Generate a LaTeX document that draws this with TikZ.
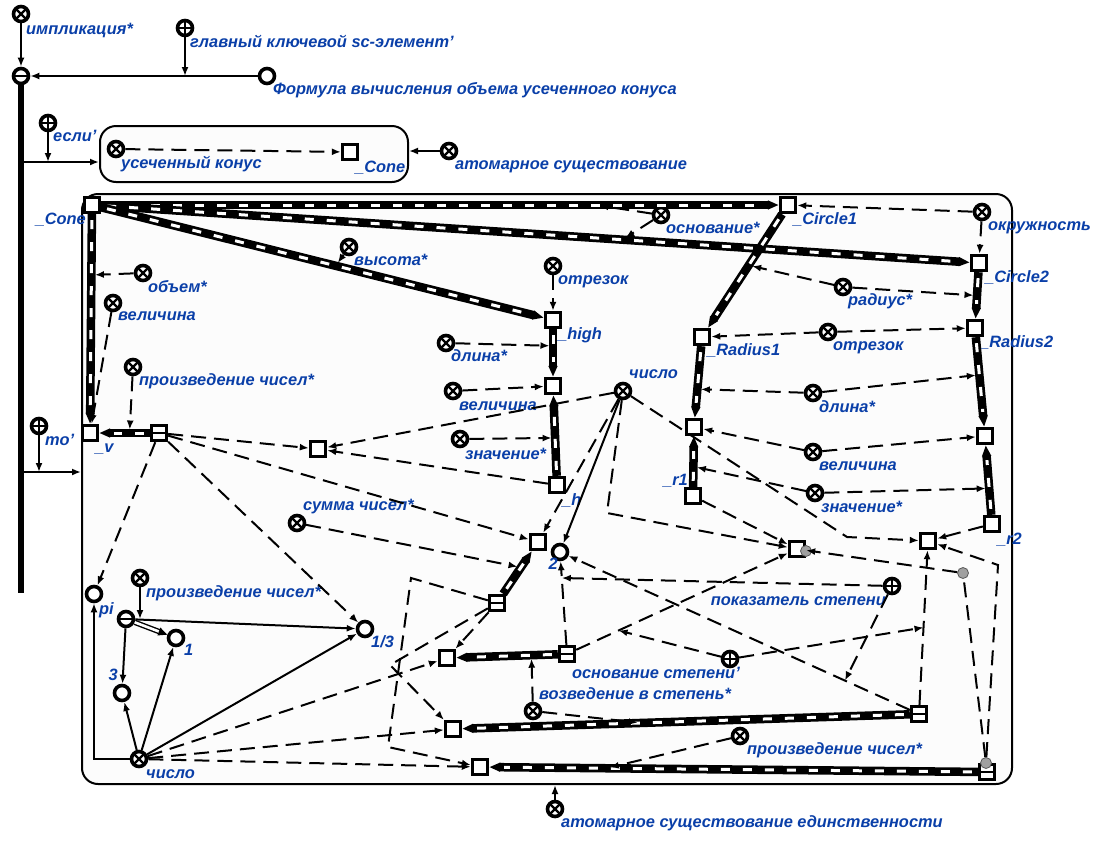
\documentclass[tikz,border=0pt]{standalone}
\usepackage{fontspec}
\setmainfont{Liberation Sans}
\usetikzlibrary{arrows.meta, calc}
\definecolor{scBlue}{HTML}{0A3FA8}
\definecolor{scGray}{HTML}{A0A0A0}

\begin{document}
\begin{tikzpicture}[x=1pt, y=-1pt,
  elem/.style={circle, draw, line width=3.6pt, fill=white, minimum size=15pt, inner sep=0pt},
  constnode/.style={elem},
  varnode/.style={elem, path picture={\draw[line width=2.2pt]
      (path picture bounding box.north west) -- (path picture bounding box.south east)
      (path picture bounding box.north east) -- (path picture bounding box.south west);}},
  plusnode/.style={elem, path picture={\draw[line width=2.2pt]
      (path picture bounding box.north) -- (path picture bounding box.south)
      (path picture bounding box.west) -- (path picture bounding box.east);}},
  minusnode/.style={elem, path picture={\draw[line width=2.4pt]
      (path picture bounding box.west) -- (path picture bounding box.east);}},
  sqnode/.style={rectangle, draw, line width=3.4pt, fill=white, minimum size=15pt, inner sep=0pt},
  tuplenode/.style={sqnode, path picture={\draw[line width=2.6pt]
      (path picture bounding box.west) -- (path picture bounding box.east);}},
  gdot/.style={circle, draw=black!65, line width=0.8pt, fill=scGray, minimum size=11pt, inner sep=0pt},
  contour/.style={draw, rounded corners=16pt, line width=2pt, fill=black!1, inner sep=0pt},
  lbl/.style={font=\fontsize{16.4}{18}\selectfont\bfseries\itshape, text=scBlue, inner sep=0pt, anchor=mid west},
  lblr/.style={lbl, anchor=mid east},
  carc/.style={line width=2pt, -{Latex[length=9pt,width=7pt]}},
  varc/.style={carc, dash pattern=on 15pt off 8pt},
  roleto/.style={varc, shorten >=3.5pt},
  pairarc/.style={line width=8.5pt, -{Triangle[length=11pt,width=8.5pt]},
    postaction={draw=white, line width=3pt, dash pattern=on 9pt off 13pt,
      shorten >=15pt, shorten <=6pt, -}}
]
\useasboundingbox (0,0) rectangle (1100,844);

% contours
\node[contour, minimum width=308pt, minimum height=56pt] (ctr1) at (254,154) {};
\node[contour, minimum width=930pt, minimum height=590pt] (ctr2) at (547,489) {};

% outer part
\node[varnode] (impl) at (21,14) {};
\node[lbl] (implL) at (26,32) {импликация*};
\node[plusnode] (glav) at (185,28) {};
\node[lbl] (glavL) at (190,45) {главный ключевой sc-элемент'};
\node[minusnode] (bund) at (21,76) {};
\node[constnode] (form) at (267,76) {};
\node[lbl] (formL) at (273,92) {Формула вычисления объема усеченного конуса};
\node[plusnode] (esli) at (48,123) {};
\node[lbl] (esliL) at (53,139) {если'};
\node[varnode] (usech) at (116,149) {};
\node[lbl] (usechL) at (121,166) {усеченный конус};
\node[sqnode] (cone1) at (350,152) {};
\node[lbl] (cone1L) at (355,170) {\_Cone};
\node[varnode] (atom) at (449,151) {};
\node[lbl] (atomL) at (455,167) {атомарное существование};
\node[plusnode] (then) at (39,426) {};
\node[lbl] (thenL) at (45,443) {то'};
\node[varnode] (atomU) at (555,809) {};
\node[lbl] (atomUL) at (561,825) {атомарное существование единственности};
\coordinate (jIf) at (21,162);
\coordinate (jThen) at (21,472);
\coordinate (tEnd) at (21,593);

% cone, circles, radii
\node[sqnode] (cone2) at (92,205) {};
\node[lblr] (cone2L) at (86,222) {\_Cone};
\node[sqnode] (circ1) at (788,205) {};
\node[lbl] (circ1L) at (793,222) {\_Circle1};
\node[sqnode] (circ2) at (979,263) {};
\node[lbl] (circ2L) at (985,280) {\_Circle2};
\node[varnode] (okr) at (982,212) {};
\node[lbl] (okrL) at (988,228) {окружность};
\node[varnode] (osnv) at (661,215) {};
\node[lbl] (osnvL) at (666,231) {основание*};
\node[varnode] (vys) at (349,247) {};
\node[lbl] (vysL) at (354,263) {высота*};
\node[sqnode] (high) at (553,320) {};
\node[lbl] (highL) at (558,337) {\_high};
\node[varnode] (otrz1) at (553,266) {};
\node[lbl] (otrz1L) at (558,282) {отрезок};
\node[varnode] (dlin1) at (446,343) {};
\node[lbl] (dlin1L) at (451,359) {длина*};
\node[sqnode] (hval) at (553,386) {};
\node[varnode] (vel1) at (453,391) {};
\node[lbl] (vel1L) at (459,408) {величина};
\node[varnode] (zn1) at (460,439) {};
\node[lbl] (zn1L) at (465,457) {значение*};
\node[sqnode] (h) at (557,485) {};
\node[lbl] (hL) at (562,503) {\_h};
\node[varnode] (num1) at (623,391) {};
\node[lbl] (num1L) at (629,376) {число};
\node[varnode] (obem) at (143,273) {};
\node[lbl] (obemL) at (148,290) {объем*};
\node[varnode] (vel2) at (113,303) {};
\node[lbl] (vel2L) at (118,318) {величина};
\node[varnode] (prz1) at (133,367) {};
\node[lbl] (prz1L) at (139,383) {произведение чисел*};
\node[sqnode] (v) at (90,433) {};
\node[lbl] (vL) at (95,450) {\_v};
\node[tuplenode] (prodv) at (159,433) {};
\node[sqnode] (hmid) at (318,449) {};
\node[sqnode] (rad1) at (702,337) {};
\node[lbl] (rad1L) at (707,353) {\_Radius1};
\node[sqnode] (rad2) at (975,328) {};
\node[lbl] (rad2L) at (980,345) {\_Radius2};
\node[varnode] (otrz2) at (828,332) {};
\node[lbl] (otrz2L) at (833,348) {отрезок};
\node[varnode] (radi) at (843,287) {};
\node[lbl] (radiL) at (848,303) {радиус*};
\node[sqnode] (r1val) at (694,427) {};
\node[sqnode] (r2val) at (985,436) {};
\node[varnode] (dlin2) at (813,393) {};
\node[lbl] (dlin2L) at (819,410) {длина*};
\node[varnode] (vel3) at (813,452) {};
\node[lbl] (vel3L) at (819,468) {величина};
\node[varnode] (zn2) at (815,493) {};
\node[lbl] (zn2L) at (821,510) {значение*};
\node[sqnode] (r1) at (693,496) {};
\node[lblr] (r1L) at (688,483) {\_r1};
\node[sqnode] (r2) at (992,524) {};
\node[lbl] (r2L) at (997,542) {\_r2};

% formula part
\node[varnode] (sumn) at (297,523) {};
\node[lbl] (sumnL) at (303,508) {сумма чисел*};
\node[sqnode] (ssum) at (538,542) {};
\node[constnode] (two) at (560,552) {};
\node[lblr] (twoL) at (558,567) {2};
\node[tuplenode] (tsum) at (497,603) {};
\node[constnode] (third) at (365,629) {};
\node[lbl] (thirdL) at (371,645) {1/3};
\node[constnode] (pi) at (94,594) {};
\node[lbl] (piL) at (99,612) {pi};
\node[varnode] (prz2) at (140,578) {};
\node[lbl] (prz2L) at (146,595) {произведение чисел*};
\node[minusnode] (tpr) at (126,619) {};
\node[constnode] (one) at (176,638) {};
\node[lbl] (oneL) at (184,653) {1};
\node[constnode] (three) at (122,693) {};
\node[lblr] (threeL) at (118,678) {3};
\node[varnode] (num2) at (139,759) {};
\node[lbl] (num2L) at (146,776) {число};
\node[sqnode] (sqa) at (447,658) {};
\node[tuplenode] (tpow1) at (567,654) {};
\node[plusnode] (osn) at (730,659) {};
\node[lblr] (osnL) at (740,676) {основание степени'};
\node[varnode] (vozv) at (533,711) {};
\node[lbl] (vozvL) at (539,697) {возведение в степень*};
\node[sqnode] (sqb) at (453,729) {};
\node[tuplenode] (tpow2) at (919,714) {};
\node[sqnode] (sqc) at (480,767) {};
\node[tuplenode] (tmul) at (987,772) {};
\node[varnode] (prz3) at (740,736) {};
\node[lbl] (prz3L) at (747,752) {произведение чисел*};
\node[sqnode] (spow) at (797,549) {};
\node[sqnode] (sp2) at (928,541) {};
\node[plusnode] (pok) at (892,586) {};
\node[lblr] (pokL) at (886,603) {показатель степени};
\node[gdot] (gA) at (806,551) {};
\node[gdot] (gB) at (963,573) {};
\node[gdot] (gC) at (986,763) {};
\coordinate (bNum) at (607,513);
\coordinate (bNumR) at (847,537);
\coordinate (bSumB) at (390,665);
\coordinate (bSumC1) at (411,578);
\coordinate (bSumC2) at (388,747);
\coordinate (bMulR) at (998,565);

% outer connectors
\draw[carc] (impl) -- (bund);
\draw[carc] (form) -- (bund);
\draw[carc] (glav) -- (glav |- bund);
\draw[line width=5.5pt] (bund) -- (tEnd);
\draw[carc] (jIf) -- (jIf -| ctr1.west);
\draw[carc] (esli) -- (esli |- jIf);
\draw[carc] (jThen) -- (jThen -| ctr2.west);
\draw[carc] (then) -- (then |- jThen);
\draw[varc] (usech) -- (cone1);
\draw[carc] (atom) -- (atom -| ctr1.east);
\draw[carc] (atomU) -- (atomU |- ctr2.south);

% pairs
\draw[pairarc] (cone2) -- coordinate[pos=0.73] (osnA) (circ1);
\draw[pairarc] (cone2) -- coordinate[pos=0.6] (osnB) (circ2);
\draw[pairarc] (cone2) -- coordinate[pos=0.53] (vysA) (high);
\draw[pairarc] (cone2) -- coordinate[pos=0.29] (obemA) (v);
\draw[pairarc] (high) -- coordinate[pos=0.35] (dlinA) (hval);
\draw[pairarc] (h) -- coordinate[pos=0.47] (znA) (hval);
\draw[pairarc] (prodv) -- coordinate[pos=0.4] (przA) (v);
\draw[pairarc] (circ1) -- coordinate[pos=0.45] (radA) (rad1);
\draw[pairarc] (circ2) -- coordinate[pos=0.5] (radB) (rad2);
\draw[pairarc] (rad1) -- coordinate[pos=0.6] (dlinB) (r1val);
\draw[pairarc] (rad2) -- coordinate[pos=0.42] (dlinC) (r2val);
\draw[pairarc] (r1) -- coordinate[pos=0.4] (znB) (r1val);
\draw[pairarc] (r2) -- coordinate[pos=0.38] (znC) (r2val);
\draw[pairarc] (tsum) -- coordinate[pos=0.62] (sumA) (ssum);
\draw[pairarc] (tpow1) -- coordinate[pos=0.26] (vozvA) (sqa);
\draw[pairarc] (tpow2) -- coordinate[pos=0.6] (vozvB) (sqb);
\draw[pairarc] (tmul) -- coordinate[pos=0.76] (przB) (sqc);

% roles and members
\draw[varc] (okr) -- (circ1);
\draw[varc] (okr) -- (circ2);
\draw[roleto] (osnv) -- (osnA);
\draw[roleto] (osnv) -- (osnB);
\draw[roleto] (vys) -- (vysA);
\draw[varc] (otrz1) -- (high);
\draw[roleto] (dlin1) -- (dlinA);
\draw[varc] (vel1) -- (hval);
\draw[roleto] (zn1) -- (znA);
\draw[roleto] (obem) -- (obemA);
\draw[varc] (vel2) -- (v);
\draw[roleto] (prz1) -- (przA);
\draw[varc] (prodv) -- (hmid);
\draw[varc] (prodv) -- (ssum);
\draw[varc] (prodv) -- (third);
\draw[varc] (prodv) -- (pi);
\draw[varc] (num1) -- (hmid);
\draw[varc] (num1) -- (ssum);
\draw[varc] (num1) -- (bNum) -- (spow);
\draw[varc] (num1) -- (bNumR) -- (sp2);
\draw[carc] (num1) -- (two);
\draw[varc] (h) -- (hmid);
\draw[varc] (otrz2) -- (rad1);
\draw[varc] (otrz2) -- (rad2);
\draw[roleto] (radi) -- (radA);
\draw[roleto] (radi) -- (radB);
\draw[roleto] (dlin2) -- (dlinB);
\draw[roleto] (dlin2) -- (dlinC);
\draw[varc] (vel3) -- (r1val);
\draw[varc] (vel3) -- (r2val);
\draw[roleto] (zn2) -- (znB);
\draw[roleto] (zn2) -- (znC);
\draw[varc] (r1) -- (spow);
\draw[varc] (r2) -- (sp2);
\draw[roleto] (sumn) -- (sumA);
\draw[varc] (tsum) -- (sqa);
\draw[varc] (tsum) -- (bSumB) -- (sqb);
\draw[varc] (tsum) -- (bSumC1) -- (bSumC2) -- (sqc);
\draw[varc] (num2) -- (sqa);
\draw[varc] (num2) -- (sqb);
\draw[varc] (num2) -- (sqc);
\draw[varc] (tpow1) -- coordinate[pos=0.8] (pokA) (two);
\draw[varc] (tpow1) -- coordinate[pos=0.2] (osnA2) (spow);
\draw[varc] (tpow2) -- coordinate[pos=0.19] (pokB) (two);
\draw[varc] (tpow2) -- coordinate[pos=0.5] (osnB2) (sp2);
\draw[varc] (pok) -- (pokA);
\draw[varc] (pok) -- (pokB);
\draw[varc] (osn) -- (osnA2);
\draw[varc] (osn) -- (osnB2);
\draw[roleto] (vozv) -- (vozvA);
\draw[roleto] (vozv) -- (vozvB);
\draw[roleto] (prz3) -- (przB);
\draw[varc] (gC) -- (gB) -- (spow);
\draw[varc] (gC) -- (bMulR) -- (sp2);

% constants
\draw[carc] (num2) -- (pi |- num2) -- (pi);
\draw[carc] (num2) -- (three);
\draw[carc] (num2) -- (one);
\draw[carc] (num2) -- (third);
\draw[carc] (tpr) -- (third);
\draw[carc] (prz2) -- (prz2 |- tpr);
\draw[carc] (tpr) -- (three);
\draw[-{Triangle[length=9pt,width=8pt]}, double, double distance=2.6pt, line width=1.4pt] (tpr) -- (one);
\end{tikzpicture}
\end{document}
